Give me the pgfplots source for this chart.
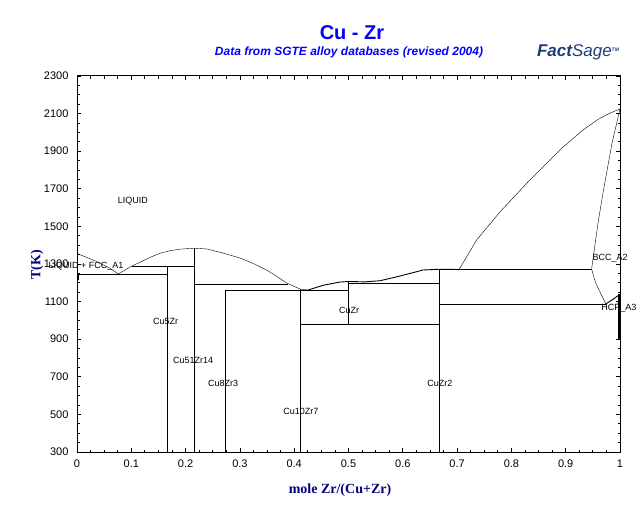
\documentclass[border=0pt]{standalone}
\usepackage{fontspec}
\setmainfont{Liberation Sans}
\newfontfamily\timesfont{Liberation Serif}
\usepackage{pgfplots}
\pgfplotsset{compat=1.18}
\definecolor{titleblue}{RGB}{0,0,255}
\definecolor{labelnavy}{RGB}{0,0,128}
\definecolor{logoblue}{RGB}{31,61,122}
\begin{document}
\begin{tikzpicture}[x=1pt,y=1pt]
\path[use as bounding box, fill=white] (0,0) rectangle (640,504);
\begin{axis}[
  at={(77pt,52pt)}, anchor=south west,
  scale only axis, width=543pt, height=376pt,
  xmin=0, xmax=1, ymin=300, ymax=2300,
  xtick={0,0.1,0.2,0.3,0.4,0.5,0.6,0.7,0.8,0.9,1},
  xticklabels={0,0.1,0.2,0.3,0.4,0.5,0.6,0.7,0.8,0.9,1},
  ytick={300,500,700,900,1100,1300,1500,1700,1900,2100,2300},
  yticklabels={300,500,700,900,1100,1300,1500,1700,1900,2100,2300},
  minor x tick num=3, minor y tick num=3,
  tick align=inside, major tick length=4pt, minor tick length=2.5pt,
  tick style={black, line width=0.8pt},
  axis line style={line width=1pt},
  ticklabel style={font=\fontsize{11}{11}\selectfont},
  xticklabel style={yshift=-4pt},
  yticklabel style={xshift=-5pt},
  cycle list={{black, solid, line width=0.9pt, mark=none}},
  clip=false,
]
% liquidus Cu side
\addplot coordinates {(0,1356) (0.030,1321) (0.061,1277) (0.076,1247)};
\addplot coordinates {(0.076,1247) (0.1007,1289) (0.116,1309) (0.135,1336) (0.153,1357) (0.172,1371) (0.190,1379) (0.2154,1384)
  (0.239,1380) (0.269,1358) (0.300,1332) (0.325,1302) (0.349,1268) (0.368,1234) (0.386,1199) (0.4107,1167) (0.426,1162)};
\addplot coordinates {(0.426,1162) (0.4536,1187) (0.484,1204) (0.5,1207) (0.53,1205) (0.558,1211) (0.589,1232) (0.619,1254) (0.637,1268) (0.6667,1272) (0.687,1272) (0.7035,1270)};
% liquidus Zr side
\addplot coordinates {(0.7035,1270) (0.736,1428) (0.779,1577) (0.834,1747) (0.893,1917) (0.932,2013) (0.960,2070) (0.982,2103) (1,2125)};
% solidus BCC
\addplot coordinates {(1,2125) (0.9853,1943) (0.9687,1678) (0.9595,1518) (0.948,1279) (0.948,1270)};
\addplot coordinates {(0.948,1270) (0.955,1200) (0.965,1140) (0.974,1088)};
\addplot coordinates {(0.974,1088) (0.987,1112) (1,1139)};
\addplot coordinates {(0.996,1088) (0.998,1115) (1,1139)};
\addplot+[line width=2pt] coordinates {(0.998,1140) (0.998,896)};
\addplot+[line width=2pt] coordinates {(0.001,1252) (0.001,1215)};
% horizontal invariant lines
\addplot coordinates {(0,1245) (0.1667,1245)};
\addplot coordinates {(0.1007,1289) (0.2154,1289)};
\addplot coordinates {(0.2154,1194) (0.388,1194)};
\addplot coordinates {(0.2727,1162) (0.5,1162)};
\addplot coordinates {(0.4118,976) (0.6667,976)};
\addplot coordinates {(0.5,1198) (0.6667,1198)};
\addplot coordinates {(0.6667,1270) (0.948,1270)};
\addplot coordinates {(0.6667,1088) (0.974,1088)};
% compounds
\addplot coordinates {(0.1667,300) (0.1667,1289)};
\addplot coordinates {(0.2154,300) (0.2154,1384)};
\addplot coordinates {(0.2727,300) (0.2727,1162)};
\addplot coordinates {(0.4118,300) (0.4118,1166)};
\addplot coordinates {(0.5,976) (0.5,1207)};
\addplot coordinates {(0.6667,300) (0.6667,1272)};
% labels
\begin{scope}[every node/.style={font=\fontsize{9}{9}\selectfont, inner sep=0pt}]
\node at (axis cs:0.103,1635) {LIQUID};
\node at (axis cs:0.0166,1289) {LIQUID + FCC\_A1};
\node at (axis cs:0.163,993) {Cu5Zr};
\node at (axis cs:0.214,789) {Cu51Zr14};
\node at (axis cs:0.269,667) {Cu8Zr3};
\node at (axis cs:0.4125,518) {Cu10Zr7};
\node at (axis cs:0.501,1055) {CuZr};
\node at (axis cs:0.6685,667) {CuZr2};
\node at (axis cs:0.9816,1330) {BCC\_A2};
\node at (axis cs:0.998,1064) {HCP\_A3};
\end{scope}
\end{axis}
\node[font=\bfseries\fontsize{20}{20}\selectfont, text=titleblue] at (352,471) {Cu - Zr};
\node[font=\bfseries\itshape\fontsize{12}{12}\selectfont, text=titleblue] at (349,452) {Data from SGTE alloy databases (revised 2004)};
\node[font=\timesfont\bfseries\fontsize{14}{14}\selectfont, text=labelnavy, rotate=90] at (37,239) {T(K)};
\node[font=\timesfont\bfseries\fontsize{14}{14}\selectfont, text=labelnavy] at (340,14) {mole Zr/(Cu+Zr)};
\node[font=\bfseries\itshape\fontsize{17}{17}\selectfont, text=logoblue, inner sep=0pt] at (578,452) {Fact\textmd{Sage}\raisebox{5pt}{\fontsize{5}{5}\selectfont TM}};
\end{tikzpicture}
\end{document}
